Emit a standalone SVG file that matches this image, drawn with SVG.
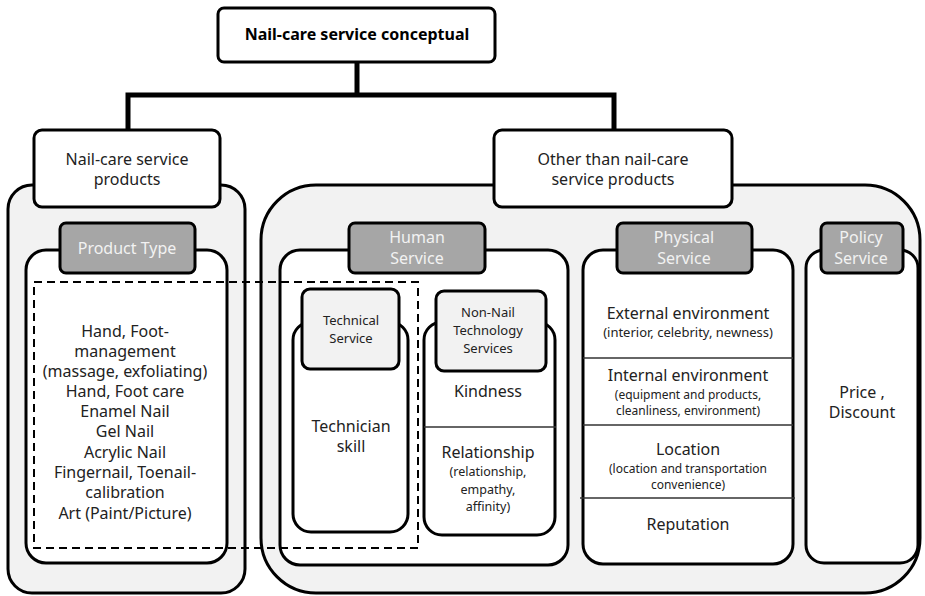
<svg xmlns="http://www.w3.org/2000/svg" width="925" height="596" viewBox="0 0 925 596">
<style>
text{font-family:"Noto Sans","Open Sans","DejaVu Sans",sans-serif;fill:#222;text-anchor:middle}
.t{font-size:16px}
.s{font-size:12.5px}
.m{font-size:13px}
.xs{font-size:13px}
.xx{font-size:12px}
.g{font-size:16px;fill:#f2f2f2}
.b{font-weight:bold;font-size:16px;fill:#000}
.box{fill:#fff;stroke:#000;stroke-width:3}
.cont{fill:#f2f2f2;stroke:#000;stroke-width:3}
.lab{fill:#a6a6a6;stroke:#000;stroke-width:3}
.lab2{fill:#f2f2f2;stroke:#000;stroke-width:3}
.div{stroke:#333;stroke-width:1.5}
.conn{fill:none;stroke:#000;stroke-width:5}
</style>
<g id="connectors">
<path class="conn" d="M357 62 V95 M128 95 H614 M128 92.5 V131 M614 92.5 V131"/>
</g>
<g id="root">
<rect class="box" x="218" y="8" width="277" height="54" rx="6"/>
<text class="b" x="357" y="40">Nail-care service conceptual</text>
</g>
<g id="left-container">
<rect class="cont" x="8" y="185" width="237" height="408" rx="24"/>
</g>
<g id="right-container">
<rect class="cont" x="261" y="185" width="659" height="408" rx="55"/>
</g>
<g id="nailcare-products">
<rect class="box" x="34" y="130" width="186" height="77" rx="8"/>
<text class="t" x="127" y="165">Nail-care service</text>
<text class="t" x="127" y="185">products</text>
</g>
<g id="other-products">
<rect class="box" x="494" y="130" width="238" height="77" rx="8"/>
<text class="t" x="613" y="165">Other than nail-care</text>
<text class="t" x="613" y="185">service products</text>
</g>
<g id="product-type">
<rect class="box" x="26" y="250" width="201" height="313" rx="20"/>
<rect class="lab" x="60" y="223" width="135" height="50" rx="6"/>
<text class="g" x="127" y="254">Product Type</text>
<text class="t" x="125" y="337">Hand, Foot-</text>
<text class="t" x="125" y="357">management</text>
<text class="t" x="125" y="377">(massage, exfoliating)</text>
<text class="t" x="125" y="397">Hand, Foot care</text>
<text class="t" x="125" y="417">Enamel Nail</text>
<text class="t" x="125" y="437">Gel Nail</text>
<text class="t" x="125" y="458">Acrylic Nail</text>
<text class="t" x="125" y="478">Fingernail, Toenail-</text>
<text class="t" x="125" y="498">calibration</text>
<text class="t" x="125" y="519">Art (Paint/Picture)</text>
</g>
<g id="human-service">
<rect class="box" x="280" y="250" width="288" height="315" rx="20"/>
<rect class="lab" x="349" y="223" width="136" height="50" rx="6"/>
<text class="g" x="417" y="243">Human</text>
<text class="g" x="417" y="264">Service</text>
</g>
<g id="technical-service">
<rect class="box" x="293" y="322" width="115" height="210" rx="18"/>
<rect class="lab2" x="302" y="289" width="97" height="80" rx="8"/>
<text class="m" x="351" y="325">Technical</text>
<text class="m" x="351" y="343">Service</text>
<text class="t" x="351" y="432">Technician</text>
<text class="t" x="351" y="452">skill</text>
</g>
<g id="non-nail-services">
<rect class="box" x="424" y="322" width="131" height="213" rx="18"/>
<line class="div" x1="424" y1="427" x2="556" y2="427"/>
<rect class="lab2" x="436" y="291" width="110" height="80" rx="8"/>
<text class="m" x="488" y="317">Non-Nail</text>
<text class="m" x="488" y="335">Technology</text>
<text class="m" x="488" y="353">Services</text>
<text class="t" x="488" y="397">Kindness</text>
<text class="t" x="488" y="458">Relationship</text>
<text class="s" x="488" y="476">(relationship,</text>
<text class="s" x="488" y="494">empathy,</text>
<text class="s" x="488" y="511">affinity)</text>
</g>
<g id="physical-service">
<rect class="box" x="583" y="250" width="210" height="314" rx="20"/>
<line class="div" x1="583" y1="358" x2="793" y2="358"/>
<line class="div" x1="583" y1="425" x2="793" y2="425"/>
<line class="div" x1="580" y1="498" x2="795" y2="498"/>
<rect class="lab" x="617" y="223" width="135" height="50" rx="6"/>
<text class="g" x="684" y="243">Physical</text>
<text class="g" x="684" y="264">Service</text>
<text class="t" x="688" y="319">External environment</text>
<text class="xs" x="688" y="337">(interior, celebrity, newness)</text>
<text class="t" x="688" y="381">Internal environment</text>
<text class="xx" x="688" y="398.5">(equipment and products,</text>
<text class="xx" x="688" y="415">cleanliness, environment)</text>
<text class="t" x="688" y="455">Location</text>
<text class="xx" x="688" y="472.5">(location and transportation</text>
<text class="xx" x="688" y="489">convenience)</text>
<text class="t" x="688" y="530">Reputation</text>
</g>
<g id="policy-service">
<rect class="box" x="806" y="250" width="112" height="313" rx="18"/>
<rect class="lab" x="821" y="223" width="82" height="50" rx="6"/>
<text class="g" x="861" y="243">Policy</text>
<text class="g" x="861" y="264">Service</text>
<text class="t" x="862" y="398">Price ,</text>
<text class="t" x="862" y="418">Discount</text>
</g>
<g id="dashed-group">
<rect x="34" y="282" width="384" height="266" fill="none" stroke="#000" stroke-width="2" stroke-dasharray="8 5"/>
</g>
</svg>
